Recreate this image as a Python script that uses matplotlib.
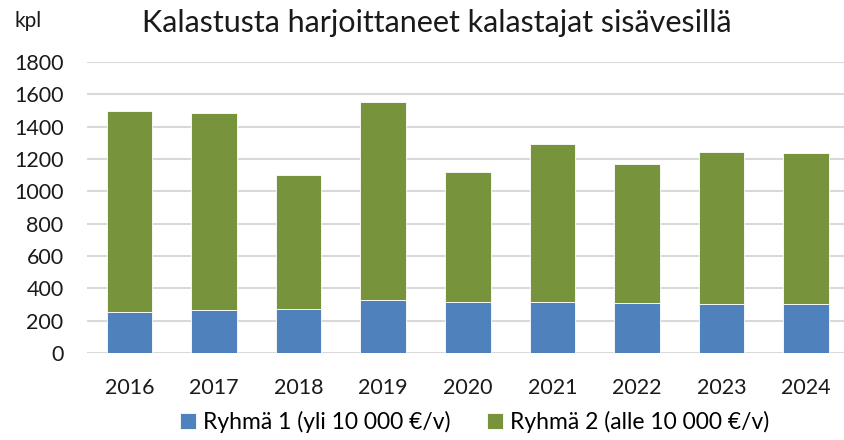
import matplotlib
matplotlib.use("Agg")
import matplotlib.pyplot as plt

plt.rcParams['font.family'] = ['Lato', 'DejaVu Sans']

vuodet = ["2016", "2017", "2018", "2019", "2020", "2021", "2022", "2023", "2024"]
ryhma1 = [256, 266, 272, 328, 314, 314, 306, 300, 300]
ryhma2 = [1240, 1216, 830, 1224, 803, 978, 860, 942, 934]

sininen = '#4F81BD'
vihrea = '#77933C'

fig = plt.figure(figsize=(8.44, 4.4), dpi=100)
ax = fig.add_axes([0.1033, 0.198, 0.902, 0.661])

x = range(len(vuodet))
ax.bar(x, ryhma1, width=0.54, color=sininen, edgecolor='white', linewidth=0.6,
       label="Ryhmä 1 (yli 10 000 €/v)", zorder=3)
ax.bar(x, ryhma2, bottom=ryhma1, width=0.54, color=vihrea, edgecolor='white', linewidth=0.6,
       label="Ryhmä 2 (alle 10 000 €/v)", zorder=3)

ax.set_ylim(0, 1800)
ax.set_xlim(-0.5, len(vuodet) - 0.5)
ax.set_yticks(range(0, 1801, 200))
ax.set_xticks(list(x))
ax.set_xticklabels(vuodet)
ax.yaxis.grid(True, color='#D9D9D9', linewidth=1.5, zorder=0)
for s in ax.spines.values():
    s.set_visible(False)
ax.tick_params(length=0, labelsize=15.5, colors='#1a1a1a')
ax.tick_params(axis='x', pad=18)
ax.tick_params(axis='y', pad=17)

fig.text(0.518, 0.948, "Kalastusta harjoittaneet kalastajat sisävesillä", ha='center', va='center',
         fontsize=22, color='#1a1a1a')
fig.text(0.017, 0.952, "kpl", ha='left', va='center', fontsize=15, color='#1a1a1a')

fig.legend(loc='lower center', bbox_to_anchor=(0.562, -0.03), ncol=2, frameon=False,
           fontsize=16.5, handlelength=0.7, handleheight=0.7, handletextpad=0.3, columnspacing=1.6)

fig.savefig("out.png", dpi=100)
